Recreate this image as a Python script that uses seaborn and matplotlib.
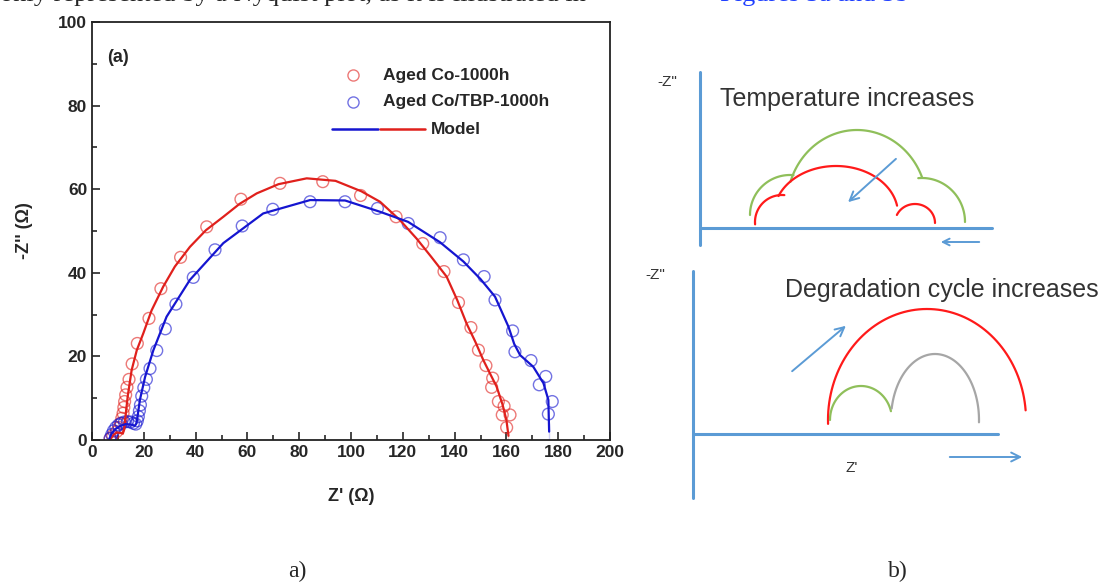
import numpy as np
import pandas as pd
import matplotlib.pyplot as plt
import seaborn as sns

# ---- panel (a): Nyquist data ----
red_z_re = [7.0, 8.0, 9.5, 10.5, 11.0, 11.5, 12.0, 12.3, 12.6, 13.0, 13.5, 14.3, 15.5, 17.5,
            22.0, 26.6, 34.2, 44.3, 57.5, 72.6, 89.1, 103.7, 117.4, 127.7, 135.9, 141.5,
            146.3, 149.2, 152.1, 154.7, 154.3, 156.9, 159.1, 158.4, 161.4, 160.1]
red_z_im = [0.3, 1.0, 2.0, 3.0, 4.0, 5.2, 6.4, 7.8, 9.2, 10.8, 12.6, 14.5, 18.2, 23.1,
            29.1, 36.2, 43.7, 51.0, 57.6, 61.4, 61.8, 58.5, 53.4, 47.0, 40.3, 32.9,
            26.9, 21.5, 17.8, 14.8, 12.6, 9.2, 8.1, 6.0, 6.0, 3.0]

blue_z_re = [7.0, 7.6, 8.3, 9.2, 10.2, 11.3, 12.5, 13.7, 14.9, 16.0, 16.9, 17.5, 17.9, 18.3,
             18.7, 19.2, 20.0, 21.0, 22.4, 25.0, 28.3, 32.4, 39.1, 47.5, 58.0, 69.8, 84.2,
             97.7, 110.2, 122.1, 134.4, 143.4, 151.4, 155.6, 162.4, 163.3, 169.5, 175.2,
             172.7, 177.7, 176.2]
blue_z_im = [0.4, 1.3, 2.2, 3.0, 3.6, 4.0, 4.3, 4.4, 4.3, 4.0, 3.8, 4.6, 5.6, 7.0,
             8.4, 10.5, 12.5, 14.5, 17.1, 21.4, 26.6, 32.5, 38.9, 45.5, 51.2, 55.2, 57.0,
             57.0, 55.4, 51.8, 48.4, 43.1, 39.1, 33.5, 26.1, 21.1, 19.0, 15.2,
             13.2, 9.2, 6.2]

red_fit_re = [7.0, 8.2, 9.6, 11.0, 11.9, 12.4, 12.9, 13.8, 15.3, 17.3, 19.8, 23.0, 27.5, 32.0,
              37.8, 44.0, 50.7, 57.0, 63.6, 72.0, 82.9, 94.0, 104.0, 111.2, 118.9, 125.3,
              131.0, 136.9, 141.0, 144.6, 148.0, 151.1, 154.0, 156.2, 158.5, 160.0, 160.8, 160.8]
red_fit_im = [0.0, 1.2, 1.8, 1.7, 1.5, 2.5, 5.5, 10.5, 16.7, 21.5, 25.5, 31.0, 36.7, 41.5,
              46.2, 50.2, 53.4, 56.5, 59.0, 61.2, 62.6, 62.0, 59.5, 57.0, 52.6, 48.2,
              43.8, 39.1, 33.5, 27.9, 23.5, 19.1, 15.5, 12.8, 8.5, 4.8, 2.0, 0.0]

blue_fit_re = [6.5, 7.5, 9.0, 11.0, 13.0, 15.0, 16.5, 17.2, 18.5, 20.5, 23.7, 28.8, 37.8, 50.7,
               66.1, 84.2, 97.7, 111.2, 122.0, 134.4, 143.4, 150.0, 155.6, 160.8, 163.0,
               165.3, 170.4, 174.3, 176.2, 176.5, 176.5]
blue_fit_im = [0.0, 1.5, 2.6, 3.4, 3.8, 3.7, 3.4, 4.0, 9.6, 15.1, 21.5, 29.5, 38.3, 47.1,
               54.2, 57.4, 57.3, 54.6, 52.2, 47.3, 42.7, 38.5, 34.3, 27.1, 23.0,
               20.3, 17.5, 13.6, 9.6, 4.0, 0.0]

series_labels = ['Aged Co-1000h', 'Aged Co/TBP-1000h']
RED = '#e0201c'
BLUE = '#1515d0'

# ---- panel (b): schematic arcs, (cx, cy, rx, ry, start_deg, end_deg) in panel pixels ----
temp_green = [(790, 215, 40, 40, 180, 85), (857, 205, 70, 75, 162, 22), (922, 222, 43, 44, 95, 0)]
temp_red = [(782, 222, 27, 27, 185, 85), (836, 214, 62, 48, 158, 10), (915, 223, 20, 19, 155, 0)]
deg_red = [(927, 420, 99, 111, 182, 5)]
deg_green = [(861, 420, 31, 34, 180, 15)]
deg_grey = [(935, 420, 44, 66, 170, -2)]

sns.set_style('ticks')
plt.rcParams['font.family'] = ['Liberation Sans', 'DejaVu Sans']

fig = plt.figure(figsize=(11.1, 5.86), dpi=100)
ax = fig.add_axes([92 / 1110, 1 - 440 / 586, 518 / 1110, 418 / 586])

fits = pd.DataFrame({'re': red_fit_re + blue_fit_re,
                     'im': red_fit_im + blue_fit_im,
                     'set': ['r'] * len(red_fit_re) + ['b'] * len(blue_fit_re)})
pts = pd.DataFrame({'re': red_z_re + blue_z_re,
                    'im': red_z_im + blue_z_im,
                    'set': [series_labels[0]] * len(red_z_re) + [series_labels[1]] * len(blue_z_re)})

sns.lineplot(data=fits[fits['set'] == 'r'], x='re', y='im', sort=False, color=RED, lw=1.6, ax=ax)
sns.lineplot(data=fits[fits['set'] == 'b'], x='re', y='im', sort=False, color=BLUE, lw=1.6, ax=ax)
sns.scatterplot(data=pts, x='re', y='im', hue='set',
                palette={series_labels[0]: RED, series_labels[1]: BLUE},
                marker='o', s=72, linewidth=1.0, alpha=0.6,
                legend=False, ax=ax)
# hollow circles: move the hue colour to the edge
for coll in ax.collections:
    ec = coll.get_facecolors()
    coll.set_edgecolors(ec)
    coll.set_facecolors('none')

ax.set_xlim(0, 200)
ax.set_ylim(0, 100)
ax.set_xticks(np.arange(0, 201, 20))
ax.set_yticks(np.arange(0, 101, 20))
ax.set_xticks(np.arange(10, 200, 20), minor=True)
ax.set_yticks(np.arange(10, 100, 20), minor=True)
ax.tick_params(which='major', direction='in', length=6, width=1.2, labelsize=12.5)
ax.tick_params(which='minor', direction='in', length=3.5, width=1.2)
for lab in ax.get_xticklabels() + ax.get_yticklabels():
    lab.set_fontweight('bold')
for sp in ax.spines.values():
    sp.set_visible(True)
    sp.set_linewidth(1.3)
    sp.set_color('#222222')

ax.set_xlabel("Z' (\u03a9)", fontsize=13, fontweight='bold', labelpad=20)
ax.set_ylabel("-Z'' (\u03a9)", fontsize=13, fontweight='bold', labelpad=18)
ax.text(0.029, 0.914, '(a)', transform=ax.transAxes, fontsize=13, fontweight='bold', va='center')

# legend, Origin style
ax.plot([0.504], [0.873], 'o', ms=8, mfc='none', mec=RED, alpha=0.6, transform=ax.transAxes)
ax.plot([0.504], [0.809], 'o', ms=8, mfc='none', mec=BLUE, alpha=0.6, transform=ax.transAxes)
ax.plot([0.463, 0.552], [0.744, 0.744], color=BLUE, lw=1.8, transform=ax.transAxes)
ax.plot([0.556, 0.643], [0.744, 0.744], color=RED, lw=1.8, transform=ax.transAxes)
ax.text(0.562, 0.873, series_labels[0], transform=ax.transAxes, fontsize=12.5, fontweight='bold', va='center')
ax.text(0.562, 0.809, series_labels[1], transform=ax.transAxes, fontsize=12.5, fontweight='bold', va='center')
ax.text(0.655, 0.744, 'Model', transform=ax.transAxes, fontsize=12.5, fontweight='bold', va='center')

# ---- panel (b) schematic ----
ax2 = fig.add_axes([640 / 1110, 1 - 510 / 586, 470 / 1110, 460 / 586])
ax2.set_xlim(640, 1110)
ax2.set_ylim(510, 50)
ax2.axis('off')

AXBLUE = '#5b9bd5'


def draw_arcs(pieces, color):
    for cx, cy, rx, ry, a0, a1 in pieces:
        t = np.radians(np.linspace(a0, a1, 80))
        ax2.plot(cx + rx * np.cos(t), cy - ry * np.sin(t), color=color, lw=1.6, solid_capstyle='round')


# top: temperature
ax2.plot([700, 700], [72, 245], color=AXBLUE, lw=2.2)
ax2.plot([700, 992], [228, 228], color=AXBLUE, lw=2.2)
draw_arcs(temp_green, '#8fbf5a')
draw_arcs(temp_red, '#ff1a1a')
ax2.annotate('', xy=(846, 204), xytext=(898, 157),
             arrowprops=dict(arrowstyle='->', color=AXBLUE, lw=1.4, mutation_scale=16))
ax2.annotate('', xy=(938, 242), xytext=(982, 242),
             arrowprops=dict(arrowstyle='->', color=AXBLUE, lw=1.4, mutation_scale=12))
ax2.text(667, 82, '-Z"', fontsize=11, color='#333333', ha='center', va='center')
ax2.text(720, 99, 'Temperature increases', fontsize=18, color='#333333', va='center')

# bottom: degradation
ax2.plot([693, 693], [271, 498], color=AXBLUE, lw=2.2)
ax2.plot([693, 998], [434, 434], color=AXBLUE, lw=2.2)
draw_arcs(deg_red, '#ff1a1a')
draw_arcs(deg_green, '#8fbf5a')
draw_arcs(deg_grey, '#a6a6a6')
ax2.annotate('', xy=(848, 324), xytext=(790, 373),
             arrowprops=dict(arrowstyle='->', color=AXBLUE, lw=1.4, mutation_scale=16))
ax2.annotate('', xy=(1025, 457), xytext=(947, 457),
             arrowprops=dict(arrowstyle='->', color=AXBLUE, lw=1.4, mutation_scale=16))
ax2.text(655, 275, '-Z"', fontsize=11, color='#333333', ha='center', va='center')
ax2.text(852, 468, "Z'", fontsize=11, color='#333333', ha='center', va='center')
ax2.text(785, 290, 'Degradation cycle increases', fontsize=18, color='#333333', va='center')

# captions and the clipped running text of the page above the figure
fig.text(297 / 1110, 1 - 571 / 586, 'a)', fontsize=17, family=['Liberation Serif', 'DejaVu Serif'],
         ha='center', va='center')
fig.text(898 / 1110, 1 - 571 / 586, 'b)', fontsize=17, family=['Liberation Serif', 'DejaVu Serif'],
         ha='center', va='center')
fig.text(0.0, 1 - 1 / 586, 'only represented by a Nyquist plot, as it is illustrated in', fontsize=19,
         family=['Liberation Serif', 'DejaVu Serif'], va='baseline')
fig.text(720 / 1110, 1 - 1 / 586, 'Figures 5a and 5b', fontsize=19, color='#1f3fff',
         family=['Liberation Serif', 'DejaVu Serif'], va='baseline')

fig.savefig('out.png', dpi=100)
